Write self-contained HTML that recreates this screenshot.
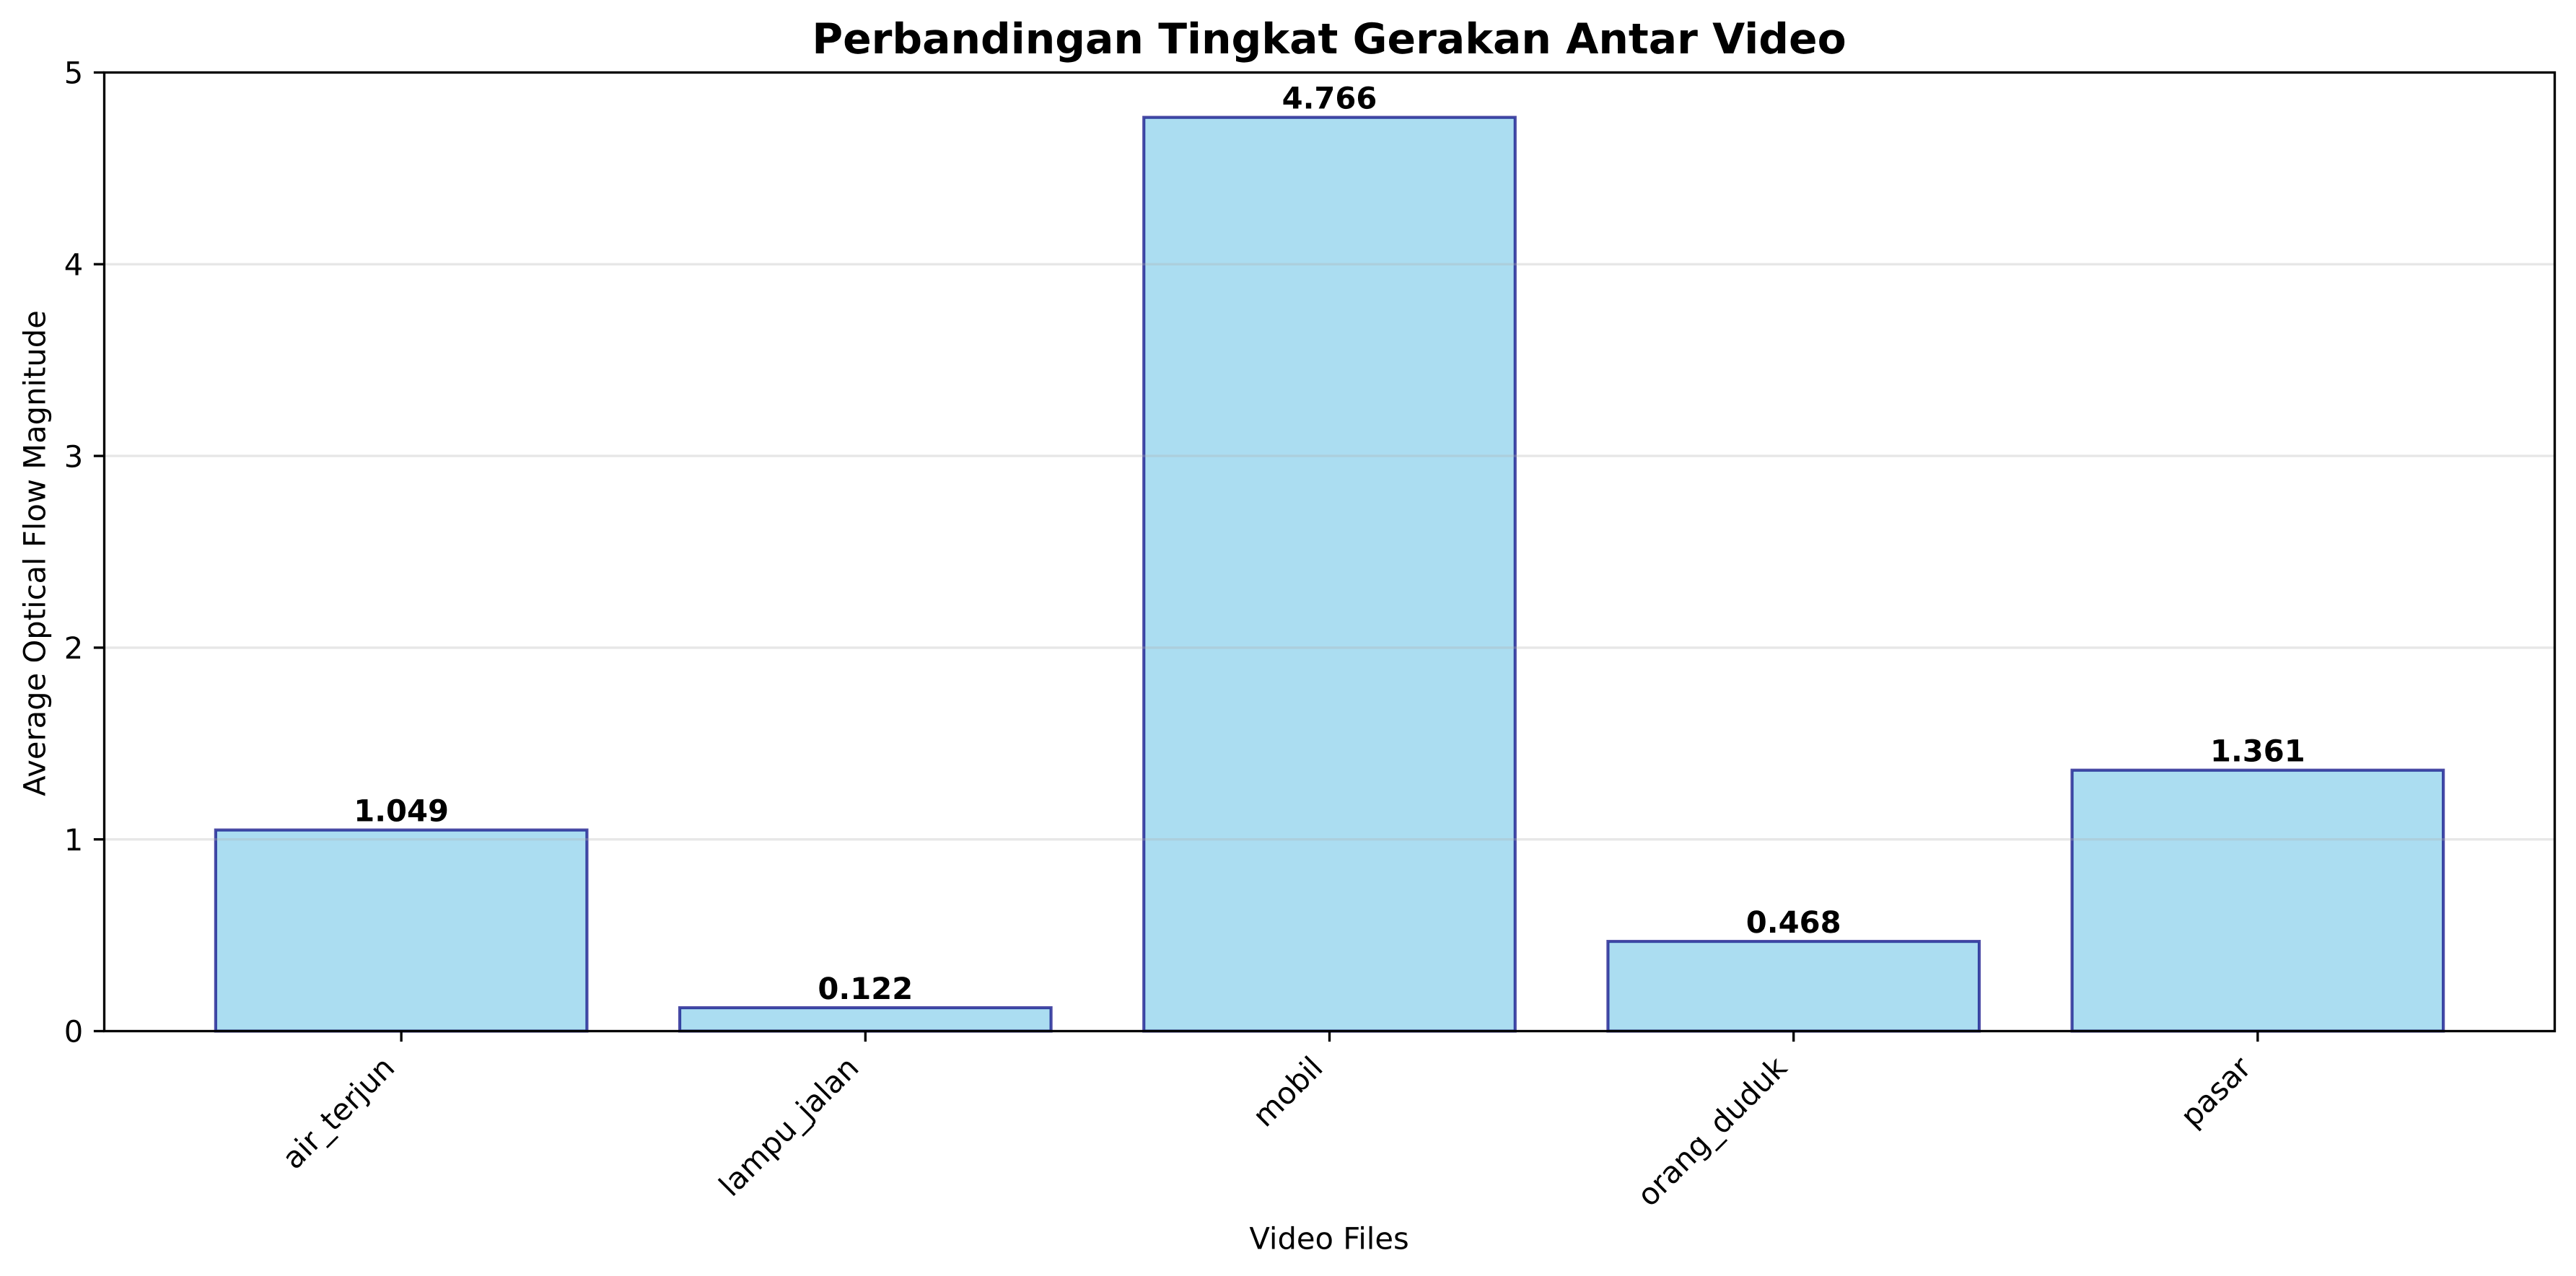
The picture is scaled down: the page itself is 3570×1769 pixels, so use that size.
<!DOCTYPE html>
<html lang="id">
<head>
<meta charset="utf-8">
<title>Perbandingan Tingkat Gerakan Antar Video</title>
<style>
html,body{margin:0;padding:0;background:#fff;width:3570px;height:1769px;overflow:hidden}
svg{display:block}
text{font-family:"DejaVu Sans","Liberation Sans",sans-serif;fill:#000;text-rendering:geometricPrecision}
</style>
</head>
<body>
<svg id="chart" xmlns="http://www.w3.org/2000/svg" width="3570" height="1769" viewBox="0 0 3570 1769">
<rect x="0" y="0" width="3570" height="1769" fill="#fff"/>
<text x="1842" y="74" font-size="58.33" font-weight="700" text-anchor="middle">Perbandingan Tingkat Gerakan Antar Video</text>
<text x="1842" y="1731.5" font-size="41.67" text-anchor="middle">Video Files</text>
<text transform="translate(62.5,767) rotate(-90)" font-size="41.67" text-anchor="middle">Average Optical Flow Magnitude</text>
<g id="bars"></g>
<g id="grid"></g>
<g id="ticks"></g>
<g id="labels"></g>
<rect x="144.5" y="100.5" width="3396" height="1329" fill="none" stroke="#000" stroke-width="3.33"/>
</svg>
<script>
const categories = ["air_terjun", "lampu_jalan", "mobil", "orang_duduk", "pasar"];
const flowValues = [1.049, 0.122, 4.766, 0.468, 1.361];
const valueLabels = ["1.049", "0.122", "4.766", "0.468", "1.361"];
const yTickValues = [0, 1, 2, 3, 4, 5];
const yTickLabels = ["0", "1", "2", "3", "4", "5"];

const NS = "http://www.w3.org/2000/svg";
const plotLeft = 144.5, plotRight = 3540.5, plotTop = 100.5, plotBottom = 1429.5;
const xMin = -0.64, xMax = 4.64, yMin = 0, yMax = 5, barWidth = 0.8;
function xScale(v) { return plotLeft + (v - xMin) / (xMax - xMin) * (plotRight - plotLeft); }
function yScale(v) { return plotBottom - (v - yMin) / (yMax - yMin) * (plotBottom - plotTop); }
function make(tag, attrs, parent, content) {
  const el = document.createElementNS(NS, tag);
  for (const k in attrs) el.setAttribute(k, attrs[k]);
  if (content !== undefined) el.textContent = content;
  parent.appendChild(el);
  return el;
}
const gridG = document.getElementById("grid");
const barsG = document.getElementById("bars");
const ticksG = document.getElementById("ticks");
const labelsG = document.getElementById("labels");

yTickValues.forEach(function (v, i) {
  const y = yScale(v);
  if (v > yMin && v < yMax) {
    const g = make("line", {x1: plotLeft, x2: plotRight, y1: y, y2: y, stroke: "#b0b0b0", "stroke-opacity": 0.3, "stroke-width": 3.33}, gridG);
    
    
  }
  const t = make("line", {x1: plotLeft - 14.6, x2: plotLeft, y1: y, y2: y, stroke: "#000", "stroke-width": 3.33}, ticksG);
  
  
  const l = make("text", {x: plotLeft - 29.2, y: y + 15.2, "font-size": 41.67, "text-anchor": "end"}, ticksG, yTickLabels[i]);
  
  
});

categories.forEach(function (name, i) {
  const cx = xScale(i);
  const left = xScale(i - barWidth / 2);
  const right = xScale(i + barWidth / 2);
  const top = yScale(flowValues[i]);
  const bar = make("rect", {x: left, y: top, width: right - left, height: yScale(0) - top, fill: "#87ceeb", "fill-opacity": 0.7, stroke: "#000080", "stroke-opacity": 0.7, "stroke-width": 4.17}, barsG);
  
  
  const v = make("text", {x: cx, y: top - 12, "font-size": 41.67, "font-weight": 700, "text-anchor": "middle"}, labelsG, valueLabels[i]);
  
  
  const t = make("line", {x1: cx, x2: cx, y1: plotBottom, y2: plotBottom + 14.6, stroke: "#000", "stroke-width": 3.33}, ticksG);
  
  
  const ax = cx - 6.9, ay = plotBottom + 29.2 + 24;
  const c = make("text", {transform: "translate(" + ax + "," + ay + ") rotate(-45)", "font-size": 41.67, "text-anchor": "end"}, ticksG, name);
  
  
});
</script>
</body>
</html>
